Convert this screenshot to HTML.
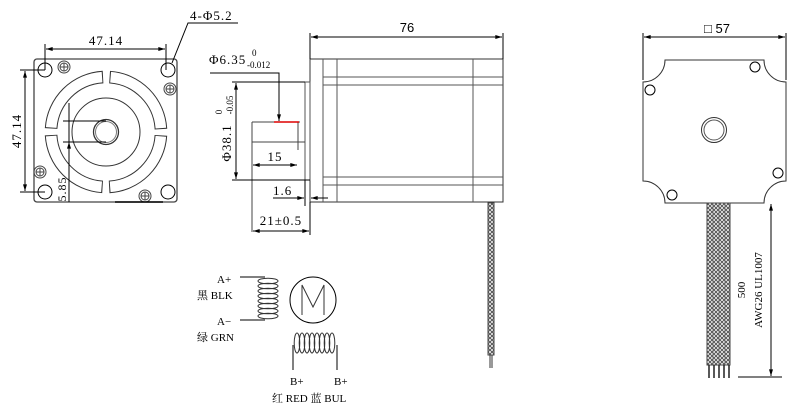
<!DOCTYPE html>
<html><head><meta charset="utf-8"><style>
html,body{margin:0;padding:0;background:#fff;}
svg{display:block;font-family:"Liberation Serif","Noto Serif CJK SC",serif;}
</style></head><body>
<svg width="798" height="416" viewBox="0 0 798 416" xmlns="http://www.w3.org/2000/svg">
<defs>
<marker id="ar" viewBox="0 0 10 6" refX="10" refY="3" markerWidth="8" markerHeight="4" orient="auto-start-reverse"><path d="M0,0 L10,3 L0,6 z" fill="#000"/></marker>
<pattern id="braid" width="4" height="4" patternUnits="userSpaceOnUse">
<rect width="4" height="4" fill="#fff"/>
<path d="M0,0 L4,4 M4,0 L0,4" stroke="#555" stroke-width="1"/>
</pattern>
</defs>
<g fill="none" stroke="#000" stroke-width="1">
<!-- FRONT VIEW -->
<rect x="34" y="59" width="143" height="143" rx="3" stroke="#444" stroke-width="1.3"/>
<circle cx="45" cy="70" r="7"/><circle cx="168" cy="70" r="7"/>
<circle cx="45" cy="192" r="7"/><circle cx="168" cy="192" r="7"/>
<g stroke="#444">
<circle cx="64" cy="67" r="6"/><circle cx="64" cy="67" r="4"/><path d="M60,67h8M64,63v8"/>
<circle cx="170" cy="89" r="6"/><circle cx="170" cy="89" r="4"/><path d="M166,89h8M170,85v8"/>
<circle cx="40" cy="172" r="6"/><circle cx="40" cy="172" r="4"/><path d="M36,172h8M40,168v8"/>
<circle cx="145" cy="196" r="6"/><circle cx="145" cy="196" r="4"/><path d="M141,196h8M145,192v8"/>
</g>
<circle cx="106" cy="132" r="55" stroke="#333" stroke-width="12.6" stroke-dasharray="79.7 6.7" stroke-dashoffset="-3.4"/>
<circle cx="106" cy="132" r="55" stroke="#fff" stroke-width="10.6" stroke-dasharray="77.7 8.7" stroke-dashoffset="-4.4"/>
<circle cx="106" cy="132" r="34" stroke="#333"/>
<circle cx="106" cy="132" r="12.5" stroke="#333" stroke-width="1.3"/>
<circle cx="106" cy="132" r="10.5" stroke="#777"/>
<path d="M115,202H163" stroke-width="1.5"/>
<!-- dims front -->
<path d="M45,44V70M166,44V70"/>
<path d="M46,49H165" marker-start="url(#ar)" marker-end="url(#ar)"/>
<path d="M20,70H45M20,192H45"/>
<path d="M25,71V191" marker-start="url(#ar)" marker-end="url(#ar)"/>
<path d="M63,121H106M63,142H106"/>
<path d="M69,103V202"/>
<path d="M69,106V121M69,157V142" marker-end="url(#ar)"/>
<path d="M238,23H188L172,63"/>
<!-- SIDE VIEW -->
<rect x="310" y="59" width="193" height="143" stroke="#333"/>
<path d="M323,59V202M337,59V202M473,59V202" stroke="#555"/>
<path d="M323,77H503M323,85H503M323,177H503M323,185H503" stroke="#555"/>
<rect x="305" y="82" width="5" height="98" stroke="#555"/>
<path d="M252,122H300M252,122V232M298,122V150M252,142H305" stroke="#444"/>
<path d="M274,122H299" stroke="#d00" stroke-width="1.5"/>
<path d="M310,33V59M503,33V59"/>
<path d="M311,37H502" marker-start="url(#ar)" marker-end="url(#ar)"/>
<path d="M210,73H279V121" marker-end="url(#ar)"/>
<path d="M232,82H305M232,180H310"/>
<path d="M236,83V179" marker-start="url(#ar)" marker-end="url(#ar)"/>
<path d="M253,165H297" marker-start="url(#ar)" marker-end="url(#ar)"/>
<path d="M305,180V206"/>
<path d="M273,198H304" marker-end="url(#ar)"/><path d="M328,198H311" marker-end="url(#ar)"/>
<path d="M310,202V235"/>
<path d="M253,231H309" marker-start="url(#ar)" marker-end="url(#ar)"/>
<rect x="488" y="203" width="6" height="152" fill="url(#braid)" stroke="#444"/>
<path d="M490,355V368M492,355V368" stroke="#333"/>
<!-- RIGHT VIEW -->
<path d="M665,60H764A22,22 0 0 0 786,82V181A22,22 0 0 0 764,203H665A22,22 0 0 0 643,181V82A22,22 0 0 0 665,60Z" stroke="#333"/>
<circle cx="714" cy="130" r="12.5" stroke="#333"/><circle cx="714" cy="130" r="10" stroke="#555"/>
<circle cx="650" cy="90" r="5"/><circle cx="755" cy="67" r="5"/>
<circle cx="778" cy="173" r="5"/><circle cx="672" cy="195" r="5"/>
<path d="M643,33V80M786,33V80"/>
<path d="M644,37H785" marker-start="url(#ar)" marker-end="url(#ar)"/>
<rect x="707" y="203" width="23" height="162" fill="url(#braid)" stroke="#444"/>
<path d="M713,203V365M719,203V365M725,203V365" stroke="#666"/>
<path d="M709,365V378M714,365V378M719,365V378M724,365V378M729,365V378" stroke="#222" stroke-width="1.5"/>
<path d="M771,204V376" marker-start="url(#ar)" marker-end="url(#ar)"/>
<path d="M738,377H782"/>
<!-- WIRING -->
<path d="M240,277H265M240,320H265"/>
<g stroke="#333">
<ellipse cx="268" cy="281" rx="10" ry="2.8"/><ellipse cx="268" cy="286" rx="10" ry="2.8"/><ellipse cx="268" cy="291" rx="10" ry="2.8"/><ellipse cx="268" cy="296" rx="10" ry="2.8"/><ellipse cx="268" cy="301" rx="10" ry="2.8"/><ellipse cx="268" cy="306" rx="10" ry="2.8"/><ellipse cx="268" cy="311" rx="10" ry="2.8"/><ellipse cx="268" cy="316" rx="10" ry="2.8"/>
<ellipse cx="297" cy="343" rx="2.8" ry="10"/><ellipse cx="302" cy="343" rx="2.8" ry="10"/><ellipse cx="307" cy="343" rx="2.8" ry="10"/><ellipse cx="312" cy="343" rx="2.8" ry="10"/><ellipse cx="317" cy="343" rx="2.8" ry="10"/><ellipse cx="322" cy="343" rx="2.8" ry="10"/><ellipse cx="327" cy="343" rx="2.8" ry="10"/><ellipse cx="332" cy="343" rx="2.8" ry="10"/>
</g>
<path d="M293,345V370M337,345V370"/>
<circle cx="313" cy="300" r="23"/>
<path d="M302,315V285L313,307L324,285V315" stroke="#333"/>
</g>
<g font-size="12" fill="#000" letter-spacing="1">
<text x="190" y="20" font-size="13">4-Φ5.2</text>
<text x="106" y="45" font-size="13" text-anchor="middle">47.14</text>
<text transform="translate(21,131) rotate(-90)" font-size="13" text-anchor="middle">47.14</text>
<text transform="translate(66,189) rotate(-90)" font-size="12" text-anchor="middle">5.85</text>
<text x="407" y="32" font-size="13" font-family="Liberation Sans,sans-serif" text-anchor="middle" letter-spacing="0">76</text>
<text x="209" y="64" font-size="13">Φ6.35</text>
<text x="252" y="56" font-size="9" letter-spacing="0">0</text>
<text x="247" y="68" font-size="9" letter-spacing="0">-0.012</text>
<text transform="translate(231,143) rotate(-90)" font-size="13" text-anchor="middle">Φ38.1</text>
<text transform="translate(222,112) rotate(-90)" font-size="9" text-anchor="middle" letter-spacing="0">0</text>
<text transform="translate(233,105) rotate(-90)" font-size="9" text-anchor="middle" letter-spacing="0">-0.05</text>
<text x="275" y="161" font-size="13" text-anchor="middle">15</text>
<text x="273" y="195" font-size="13">1.6</text>
<text x="281" y="225" font-size="13" text-anchor="middle">21±0.5</text>
<text x="704" y="33" font-size="13" font-family="Liberation Sans,sans-serif" letter-spacing="0">□ 57</text>
<text transform="translate(745,290) rotate(-90)" font-size="11" text-anchor="middle" letter-spacing="0">500</text>
<text transform="translate(762,290) rotate(-90)" font-size="11" text-anchor="middle" letter-spacing="0">AWG26 UL1007</text>
<g letter-spacing="0">
<text x="217" y="283" font-size="11">A+</text>
<text x="197" y="299" font-size="11">黑 BLK</text>
<text x="217" y="325" font-size="11">A−</text>
<text x="197" y="341" font-size="11">绿 GRN</text>
<text x="290" y="385" font-size="11">B+</text>
<text x="334" y="385" font-size="11">B+</text>
<text x="272" y="402" font-size="11">红 RED 蓝 BUL</text>
</g>
</g>
</svg>
</body></html>
